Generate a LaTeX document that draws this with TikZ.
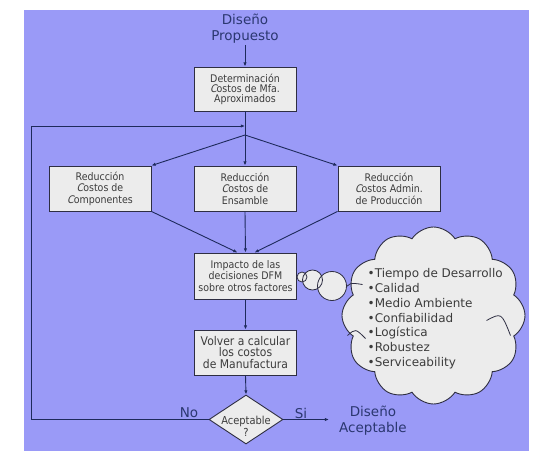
\documentclass[tikz,border=0pt]{standalone}
\usepackage{fontspec}
\setmainfont{DejaVu Sans}
\newfontfamily\condf[FakeStretch=0.9]{DejaVu Sans}
\newfontfamily\slc[FakeStretch=0.9,FakeSlant=0.25]{DejaVu Sans}
\usetikzlibrary{arrows.meta,shapes.geometric,shapes.symbols}
\definecolor{bgblue}{HTML}{9A9AF7}
\definecolor{boxfill}{HTML}{ECECEC}
\definecolor{edgec}{HTML}{2E2E42}
\definecolor{navy}{HTML}{1E2A5C}
\definecolor{lblc}{HTML}{2B3770}
\definecolor{btext}{HTML}{3C3C3C}
\begin{document}
\begin{tikzpicture}[x=1pt,y=-1pt,
 stepbox/.style={draw=edgec, line width=0.9pt, fill=boxfill, minimum width=102pt, minimum height=45pt, inner sep=0pt, align=center, text=btext, font=\condf\fontsize{10.5}{11.5}\selectfont},
 arr/.style={draw=navy, line width=0.9pt, -{Latex[length=4.2pt,width=3.4pt]}},
 ln/.style={draw=navy, line width=0.9pt},
 lbl/.style={text=lblc, font=\fontsize{13.5}{16}\selectfont, align=center, inner sep=1pt},
 bub/.style={circle, fill=boxfill, inner sep=0pt},
 bubline/.style={draw=edgec, line width=0.8pt},
]
\useasboundingbox (0,0) rectangle (542,460);
\fill[white] (0,0) rectangle (542,460);
\fill[bgblue] (24,10) rectangle (529,451);

% main column
\node[lbl] (prop) at (245,29) {Diseño\\Propuesto};
\node[stepbox, minimum height=44pt, font=\condf\fontsize{10.5}{10}\selectfont] (b1) at (245,89) {Determinación\\{\slc C}ostos de Mfa.\\Aproximados};
\coordinate (join) at (245,126);
\coordinate (split) at (245,135);
\coordinate (fbx) at (31,0);
\node[stepbox] (lb) at (100,188.5) {Reducción\\{\slc C}ostos de\\{\slc C}omponentes};
\node[stepbox] (mb) at (245,188.5) {Reducción\\{\slc C}ostos de\\Ensamble};
\node[stepbox] (rb) at (389,188.5) {Reducción\\{\slc C}ostos Admin.\\de Producción};
\node[stepbox, minimum height=46pt] (imp) at (245.5,276) {Impacto de las\\decisiones DFM\\sobre otros factores};
\node[stepbox, font=\condf\fontsize{12}{11.5}\selectfont] (vol) at (245.5,352.5) {Volver a calcular\\los costos\\de Manufactura};
\node[diamond, draw=edgec, fill=boxfill, line width=0.9pt, minimum width=74pt, minimum height=49pt, inner sep=0pt] (dia) at (246,419.5) {};
\node[text=btext, font=\condf\fontsize{11}{12}\selectfont, align=center, inner sep=0pt] (diat) at (246,426) {Aceptable\\?};
\node[lbl] (no) at (189,413) {No};
\node[lbl] (si) at (301,413) {Si};
\node[lbl, anchor=west, inner sep=0pt] (dacc) at (339,421) {Diseño\\Aceptable};

% connectors
\draw[arr] (prop.south) -- (b1.north);
\draw[ln] (b1.south) -- (split);
\draw[arr] (split) -- (lb.north east);
\draw[arr] (split) -- (mb.north);
\draw[arr] (split) -- (rb.north west);
\draw[arr] (lb.south east) -- ([xshift=-8pt]imp.north);
\draw[arr] (mb.south) -- (imp.north);
\draw[arr] (rb.south west) -- ([xshift=9pt]imp.north);
\draw[arr] (imp.south) -- (vol.north);
\draw[arr] (vol.south) -- (dia.north);
\draw[arr] (dia.west) -- (dia.west -| fbx) |- (join);
\draw[arr, shorten >=10pt] (dia.east) -- (dia.east -| dacc.west);

% thought cloud
\node[cloud, draw=edgec, fill=boxfill, line width=0.9pt, cloud puffs=12, cloud puff arc=115, aspect=1, minimum width=183pt, minimum height=177pt, inner sep=0pt] (cl) at (433.5,315.5) {};
\draw[bubline] ([shift={(-91,-24)}]cl.center) .. controls ([shift={(-84,-33)}]cl.center) .. ([shift={(-71,-31)}]cl.center);
\draw[bubline] ([shift={(-86,20)}]cl.center) .. controls ([shift={(-78,13)}]cl.center) .. ([shift={(-68,23)}]cl.center);
\draw[bubline] ([shift={(53,5)}]cl.center) .. controls ([shift={(68,-3)}]cl.center) .. ([shift={(77,20)}]cl.center);
\node[bub, minimum size=10pt] (c1) at (302,277) {};
\node[bub, minimum size=20pt] (c2) at (312.5,280) {};
\node[bub, minimum size=29pt] (c3) at (332,286) {};
\draw[bubline] (c1.center) circle (5pt);
\draw[bubline] (c2.center) circle (10pt);
\draw[bubline] (c3.center) circle (14.5pt);
\node[anchor=north west, text=btext, font=\fontsize{12}{14.8}\selectfont, align=left, inner sep=0pt] (clt) at (367.5,268.4) {•Tiempo de Desarrollo\\•Calidad\\•Medio Ambiente\\•Confiabilidad\\•Logística\\•Robustez\\•Serviceability};
\end{tikzpicture}
\end{document}
